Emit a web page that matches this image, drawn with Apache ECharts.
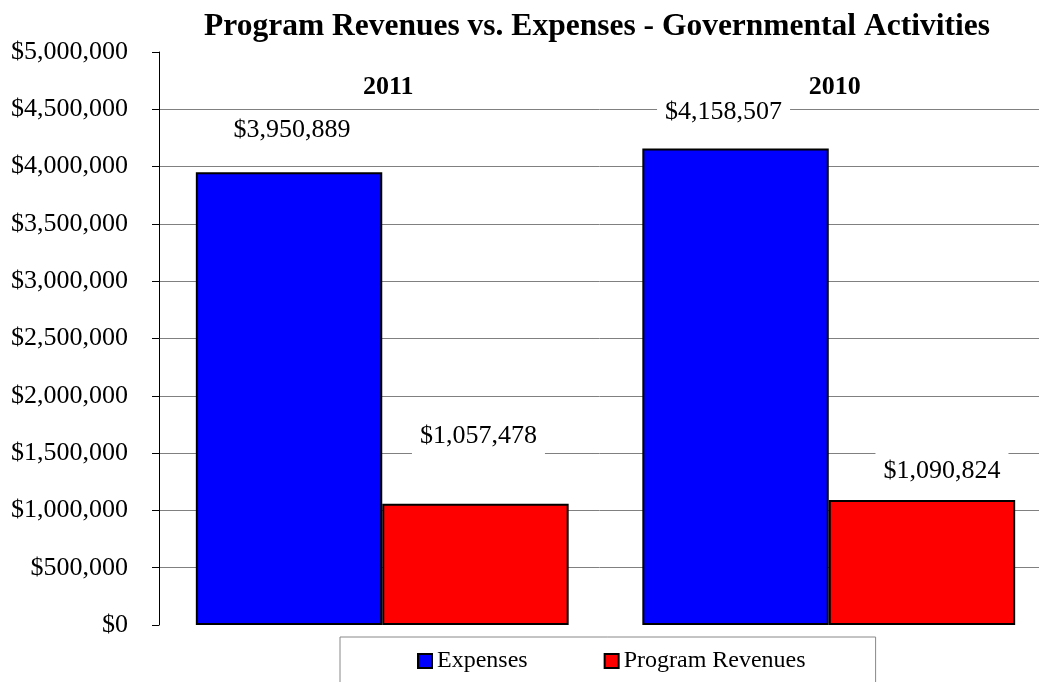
<!DOCTYPE html>
<html>
<head>
<meta charset="utf-8">
<script src="https://cdn.jsdelivr.net/npm/echarts@6/dist/echarts.min.js"></script>
<style>
html,body{margin:0;padding:0;background:#fff;}
#chart{width:1039px;height:682px;}
</style>
</head>
<body>
<div id="chart"></div>
<script>
const categories = ['2011', '2010'];
const seriesNames = ['Expenses', 'Program Revenues'];
const expenses = [3950889, 4158507];
const programRevenues = [1057478, 1090824];
const yTickLabels = ['$0','$500,000','$1,000,000','$1,500,000','$2,000,000','$2,500,000','$3,000,000','$3,500,000','$4,000,000','$4,500,000','$5,000,000'];

// manual label placement (as in the original chart)
const expenseLabelOffsets = [[3, -23], [-12, -17]];
const revenueLabelOffsets = [[3, -49], [20, -10]];

const FONT = '"Liberation Serif", "Times New Roman", serif';

function fmt(v) {
  return '$' + Math.round(v).toString().replace(/\B(?=(\d{3})+(?!\d))/g, ',');
}

function buildData(values, offsets) {
  return values.map((v, i) => ({
    value: v,
    label: { offset: offsets[i] }
  }));
}

const labelStyle = {
  show: true,
  position: 'top',
  distance: 0,
  fontFamily: FONT,
  fontSize: 26,
  lineHeight: 26,
  color: '#000',
  backgroundColor: '#fff',
  padding: [6, 8],
  formatter: p => fmt(p.value)
};

const chart = echarts.init(document.getElementById('chart'));
chart.setOption({
  animation: false,
  backgroundColor: '#fff',
  title: {
    text: 'Program Revenues vs. Expenses - Governmental Activities',
    left: 204,
    top: 11,
    padding: 0,
    textStyle: { fontFamily: FONT, fontSize: 31.5, fontWeight: 'bold', color: '#000' }
  },
  legend: {
    data: seriesNames,
    left: 340,
    top: 637,
    orient: 'horizontal',
    padding: [12, 70, 40, 77],
    itemGap: 76,
    itemWidth: 14,
    itemHeight: 14,
    icon: 'rect',
    borderColor: '#888',
    borderWidth: 1,
    textStyle: { fontFamily: FONT, fontSize: 24, color: '#000' }
  },
  grid: { left: 159, width: 893, top: 52, bottom: 57, containLabel: false, outerBoundsMode: 'none' },
  xAxis: {
    type: 'category',
    data: categories,
    position: 'top',
    axisLine: { show: false },
    axisTick: { show: false },
    axisLabel: {
      inside: true,
      margin: 35,
      verticalAlign: 'middle',
      padding: [0, 0, 0, 12],
      fontFamily: FONT,
      fontSize: 26,
      fontWeight: 'bold',
      color: '#000'
    }
  },
  yAxis: {
    type: 'value',
    min: 0,
    max: 5000000,
    interval: 500000,
    axisLine: { show: true, lineStyle: { color: '#000', width: 1 } },
    axisTick: { show: true, length: 7, lineStyle: { color: '#000' } },
    axisLabel: {
      margin: 31,
      fontFamily: FONT,
      fontSize: 26,
      color: '#000',
      formatter: v => yTickLabels[Math.round(v / 500000)]
    },
    splitLine: { show: true, showMinLine: false, showMaxLine: false, lineStyle: { color: '#808080', width: 1 } }
  },
  series: [
    {
      name: seriesNames[0],
      type: 'bar',
      data: buildData(expenses, expenseLabelOffsets),
      barGap: '0%',
      barCategoryGap: '16.5%',
      itemStyle: { color: '#0000FF', borderColor: '#000', borderWidth: 2 },
      label: labelStyle
    },
    {
      name: seriesNames[1],
      type: 'bar',
      data: buildData(programRevenues, revenueLabelOffsets),
      barGap: '0%',
      barCategoryGap: '16.5%',
      itemStyle: { color: '#FF0000', borderColor: '#000', borderWidth: 2 },
      label: labelStyle
    }
  ]
});
</script>
</body>
</html>
